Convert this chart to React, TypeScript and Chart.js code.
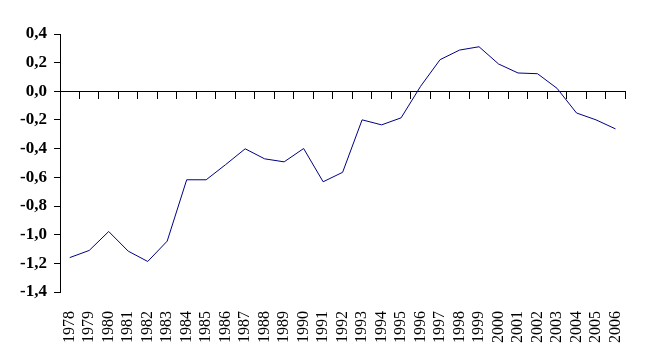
import React, { useEffect, useRef } from "react";
import { Chart, registerables } from "chart.js";

Chart.register(...registerables);

const years = [
  "1978", "1979", "1980", "1981", "1982", "1983", "1984", "1985", "1986", "1987",
  "1988", "1989", "1990", "1991", "1992", "1993", "1994", "1995", "1996", "1997",
  "1998", "1999", "2000", "2001", "2002", "2003", "2004", "2005", "2006",
];

const values = [
  -1.16, -1.11, -0.978, -1.115, -1.187, -1.045, -0.617, -0.617, -0.511, -0.401,
  -0.471, -0.492, -0.399, -0.631, -0.565, -0.199, -0.234, -0.185, 0.035, 0.221,
  0.288, 0.311, 0.191, 0.128, 0.123, 0.021, -0.151, -0.199, -0.262,
];

const yMin = -1.4;
const yMax = 0.4;
const yStep = 0.2;

const FONT = "'Liberation Serif', 'Times New Roman', serif";

export default function App() {
  const ref = useRef<HTMLCanvasElement | null>(null);

  useEffect(() => {
    document.body.style.margin = "0";
    const canvas = ref.current;
    if (!canvas) return;
    const chart = new Chart(canvas, {
      type: "line",
      data: {
        labels: years,
        datasets: [
          {
            data: values,
            borderColor: "#000080",
            borderWidth: 1,
            pointRadius: 0,
            tension: 0,
            fill: false,
            xAxisID: "x",
            yAxisID: "y",
          },
        ],
      },
      options: {
        responsive: false,
        animation: false,
        events: [],
        layout: { padding: { top: 34, right: 18, left: 0, bottom: 0 } },
        plugins: { legend: { display: false }, tooltip: { enabled: false } },
        scales: {
          x: {
            type: "category",
            position: "bottom",
            offset: true,
            grid: { display: false },
            border: { display: false },
            ticks: {
              autoSkip: false,
              minRotation: 90,
              maxRotation: 90,
              padding: 11,
              color: "#000",
              font: { family: FONT, size: 16 },
            },
            afterFit: (s: any) => {
              s.height = 67;
            },
          },
          xZero: {
            type: "category",
            position: { y: 0 } as any,
            offset: true,
            grid: {
              display: true,
              drawOnChartArea: false,
              drawTicks: true,
              tickLength: 7,
              color: "#000",
              lineWidth: 1,
              offset: true,
            },
            border: { display: true, color: "#000", width: 1 },
            ticks: { display: false },
          },
          y: {
            type: "linear",
            min: yMin,
            max: yMax,
            position: "left",
            grid: {
              display: true,
              drawOnChartArea: false,
              drawTicks: true,
              tickLength: 6,
              color: "#000",
            },
            border: { display: true, color: "#000", width: 1 },
            ticks: {
              stepSize: yStep,
              padding: 7,
              color: "#000",
              font: { family: FONT, size: 17, weight: "bold" },
              callback: (v: any) => Number(v).toFixed(1).replace(".", ","),
            },
            afterFit: (s: any) => {
              s.width = 60;
            },
          },
        },
      },
    });
    return () => chart.destroy();
  }, []);

  return (
    <div style={{ width: 646, height: 359, background: "#fff" }}>
      <canvas ref={ref} width={646} height={359} style={{ display: "block" }} />
    </div>
  );
}
